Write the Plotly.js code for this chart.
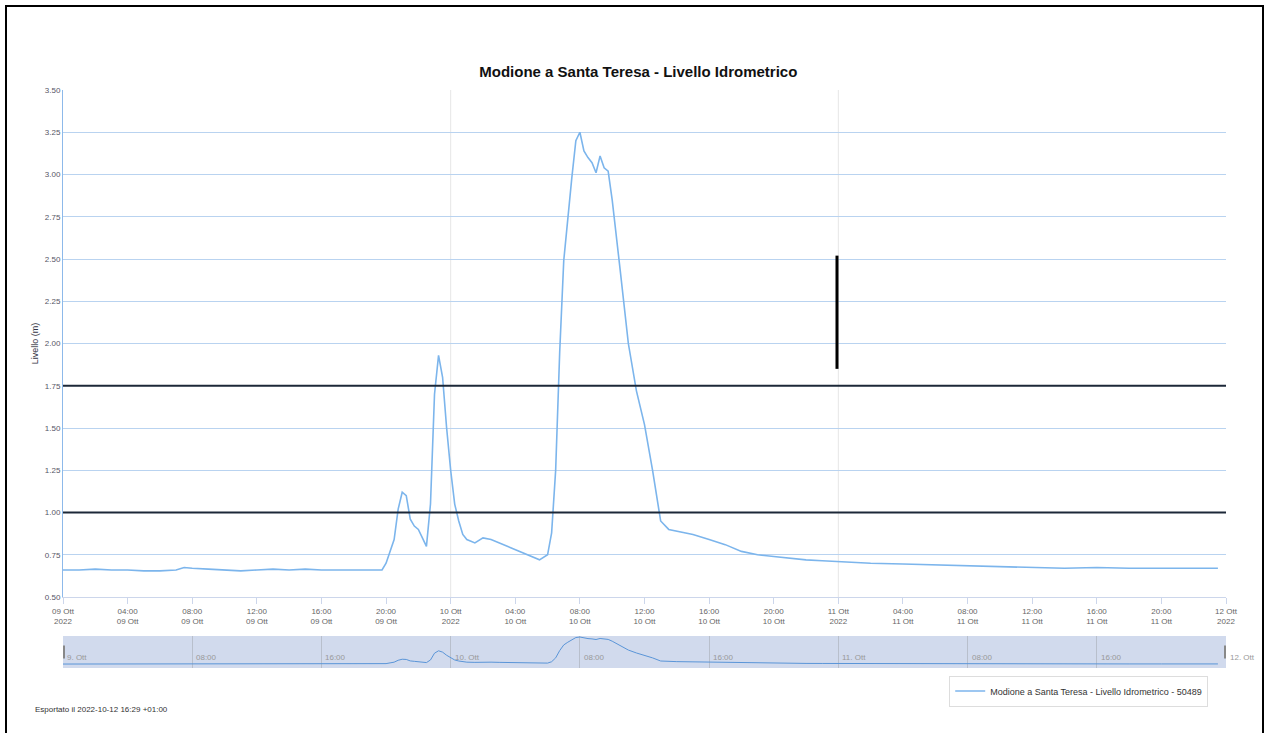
<!DOCTYPE html>
<html>
<head>
<meta charset="utf-8">
<script src="https://cdn.plot.ly/plotly-3.0.1.min.js"></script>
<style>
html,body{margin:0;padding:0;background:#fff;}
#wrap{position:relative;width:1269px;height:733px;overflow:hidden;}
#chart{width:1269px;height:733px;}
#frame{position:absolute;left:5px;top:5px;width:1255px;height:740px;border:2px solid #000;pointer-events:none;}
</style>
</head>
<body>
<div id="wrap"><div id="chart"></div><div id="frame"></div></div>
<script>
const chartTitle = "Modione a Santa Teresa - Livello Idrometrico";
const seriesName = "Modione a Santa Teresa - Livello Idrometrico - 50489";
const yTitle = "Livello (m)";
const footerText = "Esportato il 2022-10-12 16:29 +01:00";

const times = [
"2022-10-09 00:00","2022-10-09 01:00","2022-10-09 02:00","2022-10-09 03:00","2022-10-09 04:00",
"2022-10-09 05:00","2022-10-09 06:00","2022-10-09 07:00","2022-10-09 07:30","2022-10-09 08:00",
"2022-10-09 09:00","2022-10-09 10:00","2022-10-09 11:00","2022-10-09 12:00","2022-10-09 13:00",
"2022-10-09 14:00","2022-10-09 15:00","2022-10-09 16:00","2022-10-09 17:00","2022-10-09 18:00",
"2022-10-09 19:00","2022-10-09 19:45","2022-10-09 20:00","2022-10-09 20:15","2022-10-09 20:30",
"2022-10-09 20:45","2022-10-09 21:00","2022-10-09 21:15","2022-10-09 21:30","2022-10-09 21:45",
"2022-10-09 22:00","2022-10-09 22:15","2022-10-09 22:30","2022-10-09 22:45","2022-10-09 23:00",
"2022-10-09 23:15","2022-10-09 23:30","2022-10-09 23:45","2022-10-10 00:00","2022-10-10 00:15",
"2022-10-10 00:30","2022-10-10 00:45","2022-10-10 01:00","2022-10-10 01:30","2022-10-10 02:00",
"2022-10-10 02:30","2022-10-10 03:00","2022-10-10 03:30","2022-10-10 04:00","2022-10-10 04:30",
"2022-10-10 05:00","2022-10-10 05:30","2022-10-10 06:00","2022-10-10 06:15","2022-10-10 06:30",
"2022-10-10 06:45","2022-10-10 07:00","2022-10-10 07:15","2022-10-10 07:30","2022-10-10 07:45",
"2022-10-10 08:00","2022-10-10 08:15","2022-10-10 08:30","2022-10-10 08:45","2022-10-10 09:00",
"2022-10-10 09:15","2022-10-10 09:30","2022-10-10 09:45","2022-10-10 10:00","2022-10-10 10:30",
"2022-10-10 11:00","2022-10-10 11:30","2022-10-10 12:00","2022-10-10 12:30","2022-10-10 13:00",
"2022-10-10 13:30","2022-10-10 14:00","2022-10-10 15:00","2022-10-10 16:00","2022-10-10 17:00",
"2022-10-10 18:00","2022-10-10 19:00","2022-10-10 20:00","2022-10-10 21:00","2022-10-10 22:00",
"2022-10-10 23:00","2022-10-11 00:00","2022-10-11 02:00","2022-10-11 04:00","2022-10-11 06:00",
"2022-10-11 08:00","2022-10-11 10:00","2022-10-11 12:00","2022-10-11 14:00","2022-10-11 16:00",
"2022-10-11 18:00","2022-10-11 20:00","2022-10-11 22:00","2022-10-11 23:30"
];
const levels = [
0.66,0.66,0.665,0.66,0.66,
0.655,0.655,0.66,0.675,0.67,
0.665,0.66,0.655,0.66,0.665,
0.66,0.665,0.66,0.66,0.66,
0.66,0.66,0.70,0.77,0.84,
1.02,1.12,1.10,0.96,0.92,
0.90,0.85,0.80,1.05,1.70,
1.93,1.80,1.50,1.25,1.05,
0.95,0.87,0.84,0.82,0.85,
0.84,0.82,0.80,0.78,0.76,
0.74,0.72,0.75,0.88,1.25,
1.95,2.49,2.75,2.98,3.20,
3.25,3.14,3.10,3.07,3.01,
3.11,3.04,3.02,2.85,2.43,
2.00,1.72,1.52,1.25,0.95,
0.90,0.89,0.87,0.84,0.81,
0.77,0.75,0.74,0.73,0.72,
0.715,0.71,0.70,0.695,0.69,
0.685,0.68,0.675,0.67,0.675,
0.67,0.67,0.67,0.67
];

const xTickVals = [
"2022-10-09 00:00","2022-10-09 04:00","2022-10-09 08:00","2022-10-09 12:00","2022-10-09 16:00","2022-10-09 20:00",
"2022-10-10 00:00","2022-10-10 04:00","2022-10-10 08:00","2022-10-10 12:00","2022-10-10 16:00","2022-10-10 20:00",
"2022-10-11 00:00","2022-10-11 04:00","2022-10-11 08:00","2022-10-11 12:00","2022-10-11 16:00","2022-10-11 20:00",
"2022-10-12 00:00"
];
const xTickText = [
"09 Ott<br>2022","04:00<br>09 Ott","08:00<br>09 Ott","12:00<br>09 Ott","16:00<br>09 Ott","20:00<br>09 Ott",
"10 Ott<br>2022","04:00<br>10 Ott","08:00<br>10 Ott","12:00<br>10 Ott","16:00<br>10 Ott","20:00<br>10 Ott",
"11 Ott<br>2022","04:00<br>11 Ott","08:00<br>11 Ott","12:00<br>11 Ott","16:00<br>11 Ott","20:00<br>11 Ott",
"12 Ott<br>2022"
];
const navTickVals = [
"2022-10-09 00:00","2022-10-09 08:00","2022-10-09 16:00","2022-10-10 00:00","2022-10-10 08:00",
"2022-10-10 16:00","2022-10-11 00:00","2022-10-11 08:00","2022-10-11 16:00","2022-10-12 00:00"
];
const navTickText = ["9. Ott","08:00","16:00","10. Ott","08:00","16:00","11. Ott","08:00","16:00","12. Ott"];
const dayLines = ["2022-10-10 00:00","2022-10-11 00:00"];
const thresholds = [1.00, 1.75];
const markBar = {x:"2022-10-10 23:55", y0:1.85, y1:2.52};

const xRange = ["2022-10-09 00:00","2022-10-12 00:00"];
const FONT = "Liberation Sans, Arial, sans-serif";

const traces = [
  {x: times, y: levels, type:'scatter', mode:'lines', name: seriesName,
   line:{color:'#7cb5ec', width:1.6}, xaxis:'x', yaxis:'y', showlegend:true},
  {x: times, y: levels, type:'scatter', mode:'lines', name:'nav',
   line:{color:'#5a95d8', width:1}, xaxis:'x2', yaxis:'y2', showlegend:false, hoverinfo:'skip'}
];

const shapes = [];
// navigator background
shapes.push({type:'rect', xref:'x2 domain', yref:'y2 domain', x0:0, x1:1, y0:0, y1:1,
  fillcolor:'rgba(102,133,194,0.3)', line:{width:0}, layer:'below'});
// day lines in main plot
dayLines.forEach(d => shapes.push({type:'line', xref:'x', yref:'y domain', x0:d, x1:d, y0:0, y1:1,
  line:{color:'#e6e6e6', width:1}, layer:'below'}));
// threshold lines
thresholds.forEach(t => shapes.push({type:'line', xref:'x domain', yref:'y', x0:0, x1:1, y0:t, y1:t,
  line:{color:'#1c2838', width:2}}));
// black bar
shapes.push({type:'line', xref:'x', yref:'y', x0:markBar.x, x1:markBar.x, y0:markBar.y0, y1:markBar.y1,
  line:{color:'#000', width:3}});
// navigator handles
[xRange[0], xRange[1]].forEach(d => shapes.push({type:'rect', xref:'x2', yref:'y2 domain',
  x0:d, x1:d, y0:0.3, y1:0.7, line:{color:'#888', width:4}}));

const annotations = [];
navTickVals.forEach((v,i) => annotations.push({x:v, y:0.12, xref:'x2', yref:'y2 domain',
  text:navTickText[i], showarrow:false, xanchor:'left', yanchor:'bottom', xshift:2,
  font:{family:FONT, size:8, color:'#999'}}));
annotations.push({x:-0.026, y:-0.071, xref:'paper', yref:'paper', text:footerText, showarrow:false,
  xanchor:'left', yanchor:'middle', font:{family:FONT, size:8, color:'#333'}});

const layout = {
  width:1269, height:733,
  margin:{l:63, r:43, t:90, b:65},
  paper_bgcolor:'#fff', plot_bgcolor:'rgba(0,0,0,0)',
  title:{text:'<b>'+chartTitle+'</b>', x:0.503, xref:'container', xanchor:'center',
    y:0.902, yref:'container', yanchor:'middle', font:{family:FONT, size:15, color:'#111'}},
  xaxis:{type:'date', range:xRange, domain:[0,1], anchor:'y', tickvals:xTickVals, ticktext:xTickText,
    showgrid:false, zeroline:false, showline:true, linecolor:'#ccd6eb', linewidth:1,
    ticks:'outside', ticklen:6, tickcolor:'#ccd6eb',
    tickfont:{family:FONT, size:8, color:'#666'}},
  yaxis:{range:[0.5,3.5], domain:[0.1228,1], anchor:'x', tickvals:[0.5,0.75,1,1.25,1.5,1.75,2,2.25,2.5,2.75,3,3.25,3.5],
    tickformat:'.2f', showgrid:true, gridcolor:'#b9d3f0', gridwidth:1, zeroline:false,
    showline:true, linecolor:'#8db9ea', linewidth:1, ticks:'', 
    tickfont:{family:FONT, size:8, color:'#556'},
    title:{text:yTitle, standoff:4, font:{family:FONT, size:9, color:'#334'}}},
  xaxis2:{type:'date', range:xRange, domain:[0,1], anchor:'y2', tickvals:navTickVals,
    showticklabels:false, showgrid:true, gridcolor:'#b8bfcc', gridwidth:1, zeroline:false,
    showline:false, ticks:''},
  yaxis2:{range:[0.28,3.35], domain:[0,0.0554], anchor:'x2', showgrid:false, zeroline:false,
    showticklabels:false, showline:false, ticks:''},
  shapes:shapes,
  annotations:annotations,
  showlegend:true,
  legend:{x:0.762, y:-0.013, xanchor:'left', yanchor:'top', orientation:'h',
    bgcolor:'#fff', bordercolor:'#ddd', borderwidth:1,
    font:{family:FONT, size:9, color:'#333'}}
};

Plotly.newPlot('chart', traces, layout, {displayModeBar:false, staticPlot:true});
</script>
</body>
</html>
